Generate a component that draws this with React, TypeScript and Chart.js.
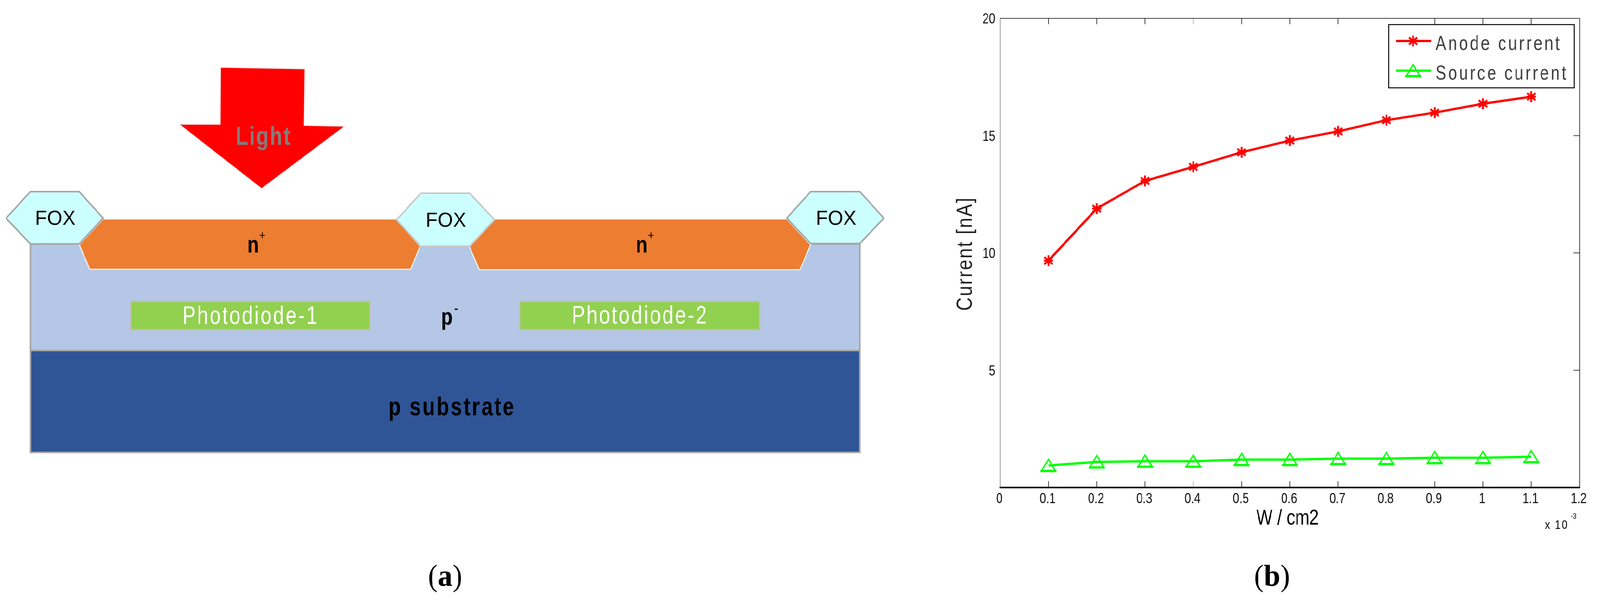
import { useEffect, useRef } from 'react';
import Chart from 'chart.js/auto';

// --- right panel values ---
const irradiance = [0.1, 0.2, 0.3, 0.4, 0.5, 0.6, 0.7, 0.8, 0.9, 1.0, 1.1];
const anodeCurrent = [9.67, 11.89, 13.07, 13.67, 14.29, 14.79, 15.18, 15.66, 15.98, 16.36, 16.66];
const sourceCurrent = [0.94, 1.09, 1.12, 1.12, 1.19, 1.19, 1.23, 1.23, 1.27, 1.27, 1.31];
const seriesNames = ['Anode current', 'Source current'];

// --- left panel outlines, in picture pixels ---
const arrowOutline = [[581, 172], [805, 176], [803, 321], [911, 323], [690, 484], [471, 318], [580, 318]];
const foxLeft = [[16, 559], [80, 491], [209, 491], [272, 559], [209, 625], [80, 625]];
const foxMiddle = [[1046, 563], [1110, 495], [1239, 495], [1304, 563], [1239, 631], [1110, 631]];
const foxRight = [[2075, 559], [2138, 491], [2268, 491], [2331, 559], [2268, 624], [2138, 624]];
const nWellLeft = [[272, 561], [1046, 561], [1108, 631], [1083, 690], [237, 690], [209, 627]];
const nWellRight = [[1304, 561], [2075, 561], [2138, 627], [2110, 691], [1264, 691], [1238, 632]];
const photodiodeLeft = [[344, 772], [976, 772], [976, 845], [344, 845]];
const photodiodeRight = [[1370, 772], [2004, 772], [2004, 845], [1370, 845]];
const pMinusLayer = [[80, 625], [2268, 625], [2268, 898], [80, 898]];
const substrate = [[80, 898], [2268, 898], [2268, 1159], [80, 1159]];

const SANS = '"Liberation Sans", Arial, sans-serif';
const SERIF = '"Liberation Serif", serif';
const PAGE_WIDTH = 4220;
const RIGHT_LEFT = 2440;
const NARROW = 0.82;

function ring(points: number[][]) {
  return [...points, points[0]].map(([x, y]) => ({ x, y }));
}

function shape(points: number[][], backgroundColor: string, borderColor: string, borderWidth: number) {
  return {
    data: ring(points),
    showLine: true,
    fill: 'shape',
    backgroundColor,
    borderColor,
    borderWidth,
    pointRadius: 0,
    tension: 0,
    borderJoinStyle: 'miter' as const,
  };
}

// squeeze: the picture's lettering is condensed and no narrow face is installed
function putText(
  ctx: CanvasRenderingContext2D,
  text: string,
  x: number,
  y: number,
  font: string,
  color: string,
  align: CanvasTextAlign = 'left',
  spacing = 0,
  squeeze = 1,
) {
  ctx.save();
  ctx.translate(x, y);
  ctx.scale(squeeze, 1);
  ctx.font = font;
  ctx.fillStyle = color;
  ctx.textAlign = align;
  ctx.textBaseline = 'alphabetic';
  (ctx as any).letterSpacing = `${spacing / squeeze}px`;
  ctx.fillText(text, 0, 0);
  ctx.restore();
}

// (a) / (b) with the letter in bold
function putCaption(ctx: CanvasRenderingContext2D, letter: string, centre: number, baseline: number) {
  ctx.save();
  ctx.font = `78px ${SERIF}`;
  const paren = ctx.measureText('(').width;
  ctx.font = `bold 78px ${SERIF}`;
  const middle = ctx.measureText(letter).width;
  ctx.restore();
  const left = centre - (paren * 2 + middle) / 2;
  putText(ctx, '(', left, baseline, `78px ${SERIF}`, '#000');
  putText(ctx, letter, left + paren, baseline, `bold 78px ${SERIF}`, '#000');
  putText(ctx, ')', left + paren + middle, baseline, `78px ${SERIF}`, '#000');
}

const diagramLabels = {
  id: 'diagramLabels',
  afterDatasetsDraw(chart: Chart) {
    const { ctx } = chart;
    const bold = (size: number) => `bold ${size}px ${SANS}`;
    const plain = (size: number) => `${size}px ${SANS}`;
    putText(ctx, 'Light', 695, 371, bold(66), '#7f7f7f', 'center', 3, NARROW);
    putText(ctx, 'FOX', 146, 576, plain(52), '#000', 'center');
    putText(ctx, 'FOX', 1176, 581, plain(52), '#000', 'center');
    putText(ctx, 'FOX', 2205, 576, plain(52), '#000', 'center');
    putText(ctx, 'n', 652, 647, bold(62), '#000', 'left', 0, NARROW);
    putText(ctx, '+', 683, 613, plain(30), '#000');
    putText(ctx, 'n', 1677, 647, bold(62), '#000', 'left', 0, NARROW);
    putText(ctx, '+', 1708, 613, plain(30), '#000');
    putText(ctx, 'Photodiode-1', 661, 830, plain(64), '#fff', 'center', 4, NARROW);
    putText(ctx, 'Photodiode-2', 1688, 829, plain(64), '#fff', 'center', 4, NARROW);
    putText(ctx, 'p', 1163, 832, bold(62), '#000', 'left', 0, NARROW);
    putText(ctx, '-', 1198, 800, bold(30), '#000');
    putText(ctx, 'p substrate', 1192, 1064, bold(66), '#000', 'center', 4, NARROW);
    putCaption(ctx, 'a', 1174, 1501);
  },
};

function DiagramPanel() {
  const canvasRef = useRef<HTMLCanvasElement>(null);

  useEffect(() => {
    if (!canvasRef.current) return;
    const chart = new Chart(canvasRef.current, {
      type: 'scatter',
      data: {
        // first dataset ends up on top
        datasets: [
          shape(foxLeft, '#ccffff', '#a6a6a6', 4),
          shape(foxMiddle, '#ccffff', '#c8c8c8', 4),
          shape(foxRight, '#ccffff', '#a6a6a6', 4),
          shape(nWellLeft, '#ed7d31', '#f2f2f2', 3),
          shape(nWellRight, '#ed7d31', '#f2f2f2', 3),
          shape(photodiodeLeft, '#92d050', '#bfbfbf', 4),
          shape(photodiodeRight, '#92d050', '#bfbfbf', 4),
          shape(pMinusLayer, '#b4c7e7', '#a6a6a6', 4),
          shape(substrate, '#2f5597', '#a6a6a6', 4),
          shape(arrowOutline, '#ff0000', '#f2f2f2', 3),
        ] as any,
      },
      options: {
        responsive: false,
        animation: false,
        devicePixelRatio: 1,
        layout: { padding: 0 },
        plugins: { legend: { display: false }, tooltip: { enabled: false } },
        scales: {
          x: { type: 'linear', min: 0, max: RIGHT_LEFT, display: false },
          y: { type: 'linear', min: 0, max: 1550, reverse: true, display: false },
        },
      },
      plugins: [diagramLabels],
    });
    return () => chart.destroy();
  }, []);

  return <canvas ref={canvasRef} width={RIGHT_LEFT} height={1550} style={{ display: 'block' }} />;
}

function makeStar(color: string) {
  const c = document.createElement('canvas');
  c.width = 30;
  c.height = 32;
  const g = c.getContext('2d')!;
  g.strokeStyle = color;
  g.lineWidth = 5;
  const arm = (dx: number, dy: number) => {
    g.beginPath();
    g.moveTo(15 - dx, 16 - dy);
    g.lineTo(15 + dx, 16 + dy);
    g.stroke();
  };
  arm(0, 14);
  arm(11, 9);
  arm(11, -9);
  arm(12, 0);
  return c;
}

function makeTriangle(color: string) {
  const c = document.createElement('canvas');
  c.width = 46;
  c.height = 38;
  const g = c.getContext('2d')!;
  g.strokeStyle = color;
  g.fillStyle = color;
  g.lineWidth = 3.5;
  g.beginPath();
  g.moveTo(23, 3);
  g.lineTo(42, 34);
  g.lineTo(4, 34);
  g.closePath();
  g.stroke();
  g.fillRect(2, 30, 42, 6);
  return c;
}

const matlabFrame = {
  id: 'matlabFrame',
  afterDatasetsDraw(chart: Chart) {
    const { ctx, chartArea, scales } = chart;
    const { left, right, top, bottom } = chartArea;
    ctx.save();
    ctx.strokeStyle = '#000';
    ctx.lineWidth = 1.5;
    ctx.beginPath();
    ctx.moveTo(left, bottom);
    ctx.lineTo(left, top);
    ctx.lineTo(right, top);
    ctx.lineTo(right, bottom);
    // inward ticks on top, bottom and right; the 0.8 tick is missing in the picture
    scales.x.ticks.forEach((t: any) => {
      if (t.value === 0 || Math.abs(t.value - 0.8) < 1e-6 || t.value === 1.2) return;
      const px = scales.x.getPixelForValue(t.value);
      ctx.moveTo(px, top);
      ctx.lineTo(px, top + 15);
      ctx.moveTo(px, bottom);
      ctx.lineTo(px, bottom - 16);
    });
    scales.y.ticks.forEach((t: any) => {
      if (t.value === 0 || t.value === 20) return;
      const py = scales.y.getPixelForValue(t.value);
      ctx.moveTo(right, py);
      ctx.lineTo(right - 16, py);
    });
    ctx.stroke();
    ctx.restore();

    // condensed tick labels, so they are drawn here instead of by the scales
    const tickFont = `37px ${SANS}`;
    scales.x.ticks.forEach((t: any) => {
      putText(ctx, t.label, scales.x.getPixelForValue(t.value) - 2, bottom + 40, tickFont, '#111', 'center', 0, NARROW);
    });
    scales.y.ticks.forEach((t: any) => {
      putText(ctx, t.label, left - 13, scales.y.getPixelForValue(t.value) + 13, tickFont, '#111', 'right', 0, NARROW);
    });
  },
};

const panelExtras = {
  id: 'panelExtras',
  afterDraw(chart: Chart) {
    const { ctx } = chart;
    ctx.save();
    ctx.translate(-RIGHT_LEFT, 0);

    // legend box
    ctx.fillStyle = '#fff';
    ctx.strokeStyle = '#000';
    ctx.lineWidth = 2.5;
    ctx.fillRect(3663, 63, 489, 162);
    ctx.strokeRect(3663, 63, 489, 162);
    const rows = [
      { y: 105, base: 128, marker: chart.data.datasets[0].pointStyle as any, color: '#ff0000' },
      { y: 181, base: 204, marker: chart.data.datasets[1].pointStyle as any, color: '#00ff00' },
    ];
    rows.forEach((row, i) => {
      ctx.fillStyle = row.color;
      ctx.fillRect(3682, row.y - 3, 93, 6);
      ctx.drawImage(row.marker, 3727 - row.marker.width / 2, row.y - row.marker.height / 2);
      putText(ctx, seriesNames[i], 3786, row.base, `52px ${SANS}`, '#404040', 'left', 5, NARROW);
    });

    // rotated y title
    ctx.save();
    ctx.translate(2563, 650);
    ctx.rotate(-Math.PI / 2);
    putText(ctx, 'Current [nA]', 0, 0, `58px ${SANS}`, '#222', 'center', 3, NARROW);
    ctx.restore();

    putText(ctx, 'W / cm2', 3396, 1344, `56px ${SANS}`, '#000', 'center', 0, 0.8);

    // exponent next to the x axis
    putText(ctx, 'x 10', 4075, 1355, `32px ${SANS}`, '#000', 'left', 3, NARROW);
    putText(ctx, '-3', 4143, 1329, `20px ${SANS}`, '#000', 'left', 0, NARROW);

    putCaption(ctx, 'b', 3355, 1501);
    ctx.restore();
  },
};

function CurrentPanel() {
  const canvasRef = useRef<HTMLCanvasElement>(null);

  useEffect(() => {
    if (!canvasRef.current) return;
    const chart = new Chart(canvasRef.current, {
      type: 'line',
      data: {
        datasets: [
          {
            label: seriesNames[0],
            data: irradiance.map((x, i) => ({ x, y: anodeCurrent[i] })),
            borderColor: '#ff0000',
            backgroundColor: '#ff0000',
            borderWidth: 6,
            pointStyle: makeStar('#ff0000'),
            pointRadius: 10,
            tension: 0,
          },
          {
            label: seriesNames[1],
            data: irradiance.map((x, i) => ({ x, y: sourceCurrent[i] })),
            borderColor: '#00ff00',
            backgroundColor: '#00ff00',
            borderWidth: 6,
            pointStyle: makeTriangle('#00ff00'),
            pointRadius: 10,
            tension: 0,
          },
        ],
      },
      options: {
        responsive: false,
        animation: false,
        devicePixelRatio: 1,
        layout: { padding: { top: 47, right: 54, left: 0, bottom: 0 } },
        plugins: { legend: { display: false }, tooltip: { enabled: false } },
        scales: {
          x: {
            type: 'linear',
            min: 0,
            max: 1.2,
            afterFit: (s: any) => {
              s.height = 301;
            },
            grid: { display: false },
            border: { display: true, color: '#000', width: 4 },
            ticks: {
              display: false,
              stepSize: 0.1,
              autoSkip: false,
              callback: (v: any) => String(Number(Number(v).toFixed(1))),
            },
          },
          y: {
            type: 'linear',
            min: 0,
            max: 20,
            afterFit: (s: any) => {
              s.width = 198;
            },
            grid: { display: false },
            border: { display: false },
            ticks: {
              display: false,
              stepSize: 5,
              callback: (v: any) => (Number(v) === 0 ? '' : String(v)),
            },
          },
        },
      },
      plugins: [matlabFrame, panelExtras],
    });
    return () => chart.destroy();
  }, []);

  return <canvas ref={canvasRef} width={PAGE_WIDTH - RIGHT_LEFT} height={1550} style={{ display: 'block' }} />;
}

export default function App() {
  // the window can come out narrower than the 4220 asked for, keep the whole layout in view
  const fit = Math.min(1, window.innerWidth / PAGE_WIDTH);
  return (
    <div
      style={{
        position: 'absolute',
        left: 0,
        top: 0,
        width: PAGE_WIDTH,
        height: 1550,
        display: 'flex',
        background: '#fff',
        transformOrigin: '0 0',
        transform: `scaleX(${fit})`,
      }}
    >
      <DiagramPanel />
      <CurrentPanel />
    </div>
  );
}
